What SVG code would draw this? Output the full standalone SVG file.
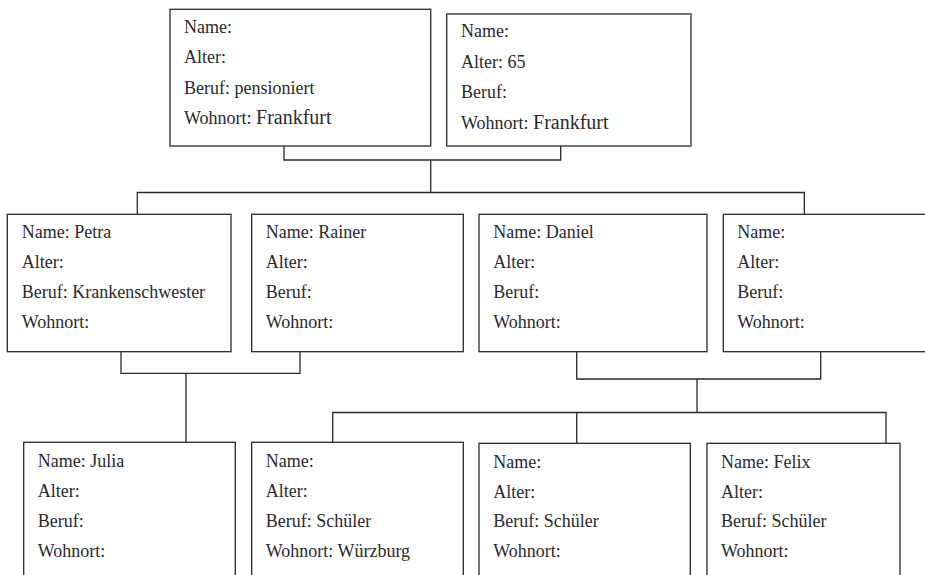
<svg xmlns="http://www.w3.org/2000/svg" width="925" height="575" viewBox="0 0 925 575">
<style>
.box{fill:#fff;stroke:#2a2a2a;stroke-width:1.3}
.t{font-family:"Liberation Serif","Times New Roman",serif;font-size:18px;fill:#2a2a2a}
.big{font-size:20px}
.c{fill:none;stroke:#2a2a2a;stroke-width:1.3}
</style>
<rect width="925" height="575" fill="#fff"/>
<g id="connectors">
<polyline class="c" points="284,146 284,160 560.7,160 560.7,146"/>
<line class="c" x1="430.7" y1="160" x2="430.7" y2="192.5"/>
<polyline class="c" points="137.3,214.3 137.3,192.5 804.3,192.5 804.3,214.3"/>
<polyline class="c" points="121,351.7 121,373.3 300,373.3 300,351.7"/>
<line class="c" x1="186" y1="373.3" x2="186" y2="442.3"/>
<polyline class="c" points="576.7,351.7 576.7,379 820.7,379 820.7,351.7"/>
<line class="c" x1="697" y1="379" x2="697" y2="412.5"/>
<polyline class="c" points="332.7,442.3 332.7,412.5 886,412.5 886,443.3"/>
<line class="c" x1="576.7" y1="412.5" x2="576.7" y2="443.3"/>
</g>
<g id="grandpa">
<rect class="box" x="170" y="9.3" width="260.7" height="136.7"/>
<text class="t" x="184" y="32.5">Name:</text>
<text class="t" x="184" y="63">Alter:</text>
<text class="t" x="184" y="93.5">Beruf: pensioniert</text>
<text class="t" x="184" y="124">Wohnort: <tspan class="big">Frankfurt</tspan></text>
</g>
<g id="grandma">
<rect class="box" x="446.7" y="14" width="244.3" height="132"/>
<text class="t" x="461" y="37.3">Name:</text>
<text class="t" x="461" y="67.5">Alter: 65</text>
<text class="t" x="461" y="98">Beruf:</text>
<text class="t" x="461" y="128.7">Wohnort: <tspan class="big">Frankfurt</tspan></text>
</g>
<g id="petra">
<rect class="box" x="7.3" y="214.3" width="223.7" height="137.4"/>
<text class="t" x="21.7" y="238.3">Name: Petra</text>
<text class="t" x="21.7" y="268.3">Alter:</text>
<text class="t" x="21.7" y="298.3">Beruf: Krankenschwester</text>
<text class="t" x="21.7" y="328.3">Wohnort:</text>
</g>
<g id="rainer">
<rect class="box" x="251.7" y="214.3" width="211.6" height="137.4"/>
<text class="t" x="265.7" y="238.3">Name: Rainer</text>
<text class="t" x="265.7" y="268.3">Alter:</text>
<text class="t" x="265.7" y="298.3">Beruf:</text>
<text class="t" x="265.7" y="328.3">Wohnort:</text>
</g>
<g id="daniel">
<rect class="box" x="479" y="214.3" width="228" height="137.4"/>
<text class="t" x="493.3" y="238.3">Name: Daniel</text>
<text class="t" x="493.3" y="268.3">Alter:</text>
<text class="t" x="493.3" y="298.3">Beruf:</text>
<text class="t" x="493.3" y="328.3">Wohnort:</text>
</g>
<g id="partner">
<rect class="box" x="723.3" y="214.3" width="230" height="137.4"/>
<text class="t" x="737.3" y="238.3">Name:</text>
<text class="t" x="737.3" y="268.3">Alter:</text>
<text class="t" x="737.3" y="298.3">Beruf:</text>
<text class="t" x="737.3" y="328.3">Wohnort:</text>
</g>
<g id="julia">
<rect class="box" x="23.7" y="442.3" width="211.6" height="160"/>
<text class="t" x="37.7" y="467">Name: Julia</text>
<text class="t" x="37.7" y="497">Alter:</text>
<text class="t" x="37.7" y="527">Beruf:</text>
<text class="t" x="37.7" y="557">Wohnort:</text>
</g>
<g id="child1">
<rect class="box" x="251.7" y="442.3" width="211.6" height="160"/>
<text class="t" x="265.7" y="467">Name:</text>
<text class="t" x="265.7" y="497">Alter:</text>
<text class="t" x="265.7" y="527">Beruf: Schüler</text>
<text class="t" x="265.7" y="557">Wohnort: Würzburg</text>
</g>
<g id="child2">
<rect class="box" x="479" y="443.3" width="211.3" height="160"/>
<text class="t" x="493.3" y="467.5">Name:</text>
<text class="t" x="493.3" y="497.5">Alter:</text>
<text class="t" x="493.3" y="527">Beruf: Schüler</text>
<text class="t" x="493.3" y="557">Wohnort:</text>
</g>
<g id="felix">
<rect class="box" x="707" y="443.3" width="193" height="160"/>
<text class="t" x="721" y="468">Name: Felix</text>
<text class="t" x="721" y="498">Alter:</text>
<text class="t" x="721" y="527">Beruf: Schüler</text>
<text class="t" x="721" y="557">Wohnort:</text>
</g>
</svg>
